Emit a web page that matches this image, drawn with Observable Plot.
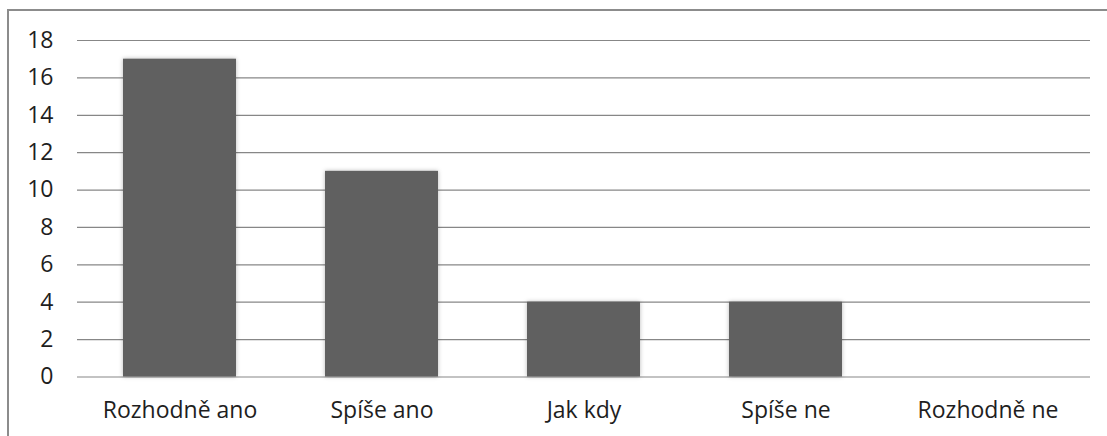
<!DOCTYPE html>
<html>
<head>
<meta charset="utf-8">
<script src="https://cdn.jsdelivr.net/npm/d3@7"></script>
<script src="https://cdn.jsdelivr.net/npm/@observablehq/plot@0.6"></script>
<style>
  html, body { margin: 0; padding: 0; background: #ffffff; }
  #chart { position: relative; width: 1107px; height: 436px; overflow: hidden; }
  #frame { position: absolute; left: 7px; top: 9px; width: 1200px; height: 500px;
           border-left: 2px solid #8c8c8c; border-top: 2px solid #8c8c8c; }
  #chart svg { position: absolute; left: 0; top: 0; }
  #chart svg g[aria-label="bar"] { filter: drop-shadow(0 0 2px rgba(0,0,0,0.28)); }
</style>
</head>
<body>
<div id="chart"><div id="frame"></div></div>
<script>
// Answer categories and response counts
const categories = ["Rozhodně ano", "Spíše ano", "Jak kdy", "Spíše ne", "Rozhodně ne"];
const counts = [17, 11, 4, 4, 0];
const yTicks = [0, 2, 4, 6, 8, 10, 12, 14, 16, 18];

const data = categories.map((c, i) => ({category: c, count: counts[i]}));

const chart = Plot.plot({
  width: 1107,
  height: 436,
  marginTop: 40,
  marginBottom: 59.5,
  marginLeft: 77,
  marginRight: 17,
  style: {fontFamily: "'Open Sans', sans-serif", fontSize: "23px", color: "#1e1e1e", background: "transparent"},
  x: {domain: categories, paddingInner: 0.44, paddingOuter: 0.22, label: null},
  y: {domain: [0, 18], label: null},
  marks: [
    Plot.ruleY(yTicks, {stroke: "#878787", strokeWidth: 1.2}),
    Plot.barY(data, {x: "category", y: "count", fill: "#606060"}),
    Plot.axisY({ticks: yTicks, tickSize: 0, tickPadding: 24, label: null, fontSize: 23}),
    Plot.axisX({tickSize: 0, tickPadding: 25, label: null, fontSize: 23})
  ]
});
document.getElementById("chart").appendChild(chart);
</script>
</body>
</html>
